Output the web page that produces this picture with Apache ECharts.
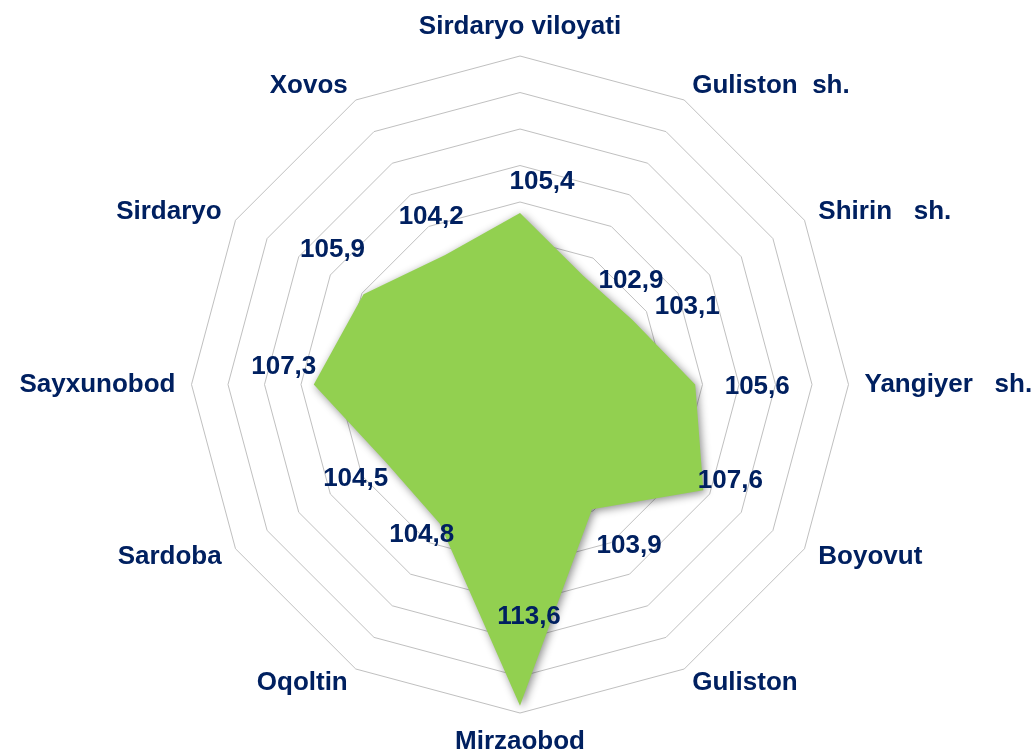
<!DOCTYPE html>
<html>
<head>
<meta charset="utf-8">
<script src="https://cdn.jsdelivr.net/npm/echarts@6/dist/echarts.min.js"></script>
<style>
html,body{margin:0;padding:0;background:#fff;}
#chart{width:1036px;height:753px;}
</style>
</head>
<body>
<div id="chart"></div>
<script>
// Categories (clockwise from top)
var categories = ['Sirdaryo viloyati', 'Guliston  sh.', 'Shirin   sh.', 'Yangiyer   sh.', 'Boyovut', 'Guliston', 'Mirzaobod', 'Oqoltin', 'Sardoba', 'Sayxunobod', 'Sirdaryo', 'Xovos'];
// Series values
var values = [105.4, 102.9, 103.1, 105.6, 107.6, 103.9, 113.6, 104.8, 104.5, 107.3, 105.9, 104.2];
// Radial scale
var scaleMin = 96;
var scaleMax = 114;
var scaleSplits = 9;

// Label offsets (style only), per category
var labelOffsets = [[22,-31],[48,5],[55,-13],[62,2],[27,-10],[37,36],[9,-89],[-18,11],[-30,17],[-30,-18],[-31,-44],[-14,-38]];

var navy = '#002060';
var font = '"Liberation Sans", Arial, sans-serif';

function fmt(v){ return Number(v).toFixed(1).replace('.', ','); }

// ECharts radar runs counter-clockwise: reorder so categories read clockwise
var n = categories.length;
var order = [0];
for (var k = n - 1; k >= 1; k--) order.push(k);
var plotValues = order.map(function(k){ return values[k]; });
var plotIndicators = order.map(function(k){ return { name: categories[k], min: scaleMin, max: scaleMax }; });

var chart = echarts.init(document.getElementById('chart'), null, {renderer:'canvas'});

var series = [{
  type: 'radar',
  silent: true,
  symbol: 'none',
  z: 2,
  lineStyle: { width: 0, opacity: 0 },
  areaStyle: {
    color: '#92D050',
    opacity: 1,
    shadowBlur: 8,
    shadowColor: 'rgba(0,0,0,0.45)',
    shadowOffsetX: 2,
    shadowOffsetY: 2
  },
  data: [{ value: plotValues }]
}];

categories.forEach(function(c, i){
  var dim = order.indexOf(i);
  series.push({
    type: 'radar',
    silent: true,
    z: 3,
    symbol: 'circle',
    symbolSize: 1,
    itemStyle: { color: 'rgba(0,0,0,0)', borderWidth: 0 },
    lineStyle: { width: 0, opacity: 0 },
    label: {
      show: true,
      position: 'inside',
      offset: labelOffsets[i],
      color: navy,
      fontSize: 26,
      fontWeight: 'bold',
      fontFamily: font,
      formatter: function(p){
        var idx = p.dimensionIndex;
        var v = p.value;
        if (Array.isArray(v)) { return idx === dim ? fmt(v[dim]) : ''; }
        if (idx != null) { return idx === dim ? fmt(v) : ''; }
        return v === values[i] ? fmt(v) : '';
      }
    },
    data: [{ value: plotValues }]
  });
});

var option = {
  animation: false,
  backgroundColor: '#ffffff',
  radar: {
    center: [520, 384.5],
    radius: 328.5,
    startAngle: 90,
    shape: 'polygon',
    splitNumber: scaleSplits,
    indicator: plotIndicators,
    axisName: {
      color: navy,
      fontSize: 26,
      fontWeight: 'bold',
      fontFamily: font
    },
    nameGap: 16,
    axisLine: { show: false },
    axisTick: { show: false },
    axisLabel: { show: false },
    splitArea: { show: false },
    splitLine: { lineStyle: { color: '#c0c0c0', width: 1 } }
  },
  series: series
};
chart.setOption(option);
</script>
</body>
</html>
